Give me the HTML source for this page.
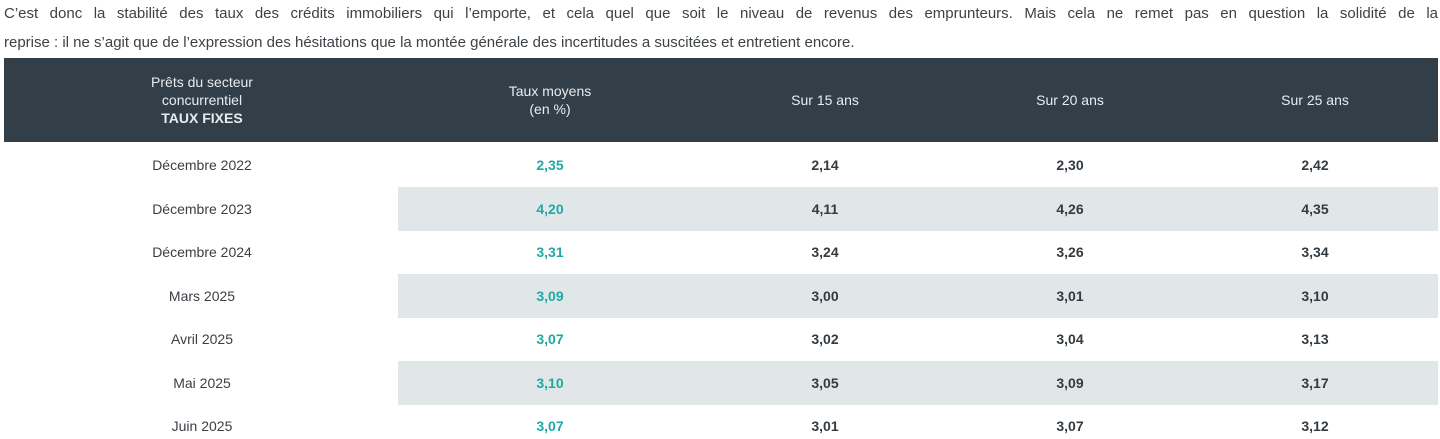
<!DOCTYPE html>
<html><head><meta charset="utf-8"><style>
body{margin:0;width:1440px;height:439px;background:#fff;overflow:hidden;font-family:"Liberation Sans",sans-serif;color:#3a3f44;position:relative}
.p{position:absolute;left:4px;width:1434px;font-size:15px;line-height:20px;color:#3d4246;white-space:nowrap}
#l1{top:4px;text-align:justify;text-align-last:justify;white-space:normal}
#l2{top:33px}
#hdr{position:absolute;left:4px;top:58px;width:1434px;height:84px;background:#333f48}
.c{position:absolute;transform:translate(-50%,-50%);text-align:center;font-size:14px;white-space:nowrap}
.h{color:#e8ecef;line-height:18px}
.shade{position:absolute;left:398px;width:1040px;height:43.5px;background:#e1e6e9}
.b{font-weight:bold;color:#333a40}
.t{font-weight:bold;color:#1fa9a3}
</style></head><body>
<div class="p" id="l1">C’est donc la stabilité des taux des crédits immobiliers qui l’emporte, et cela quel que soit le niveau de revenus des emprunteurs. Mais cela ne remet pas en question la solidité de la</div>
<div class="p" id="l2">reprise : il ne s’agit que de l’expression des hésitations que la montée générale des incertitudes a suscitées et entretient encore.</div>
<div id="hdr"></div>
<div id="tbl"></div>
<script>
const hdrs=["Prêts du secteur<br>concurrentiel<br><b>TAUX FIXES</b>","Taux moyens<br>(en %)","Sur 15 ans","Sur 20 ans","Sur 25 ans"];
const periods=["Décembre 2022","Décembre 2023","Décembre 2024","Mars 2025","Avril 2025","Mai 2025","Juin 2025"];
const tauxMoyens=["2,35","4,20","3,31","3,09","3,07","3,10","3,07"];
const sur15=["2,14","4,11","3,24","3,00","3,02","3,05","3,01"];
const sur20=["2,30","4,26","3,26","3,01","3,04","3,09","3,07"];
const sur25=["2,42","4,35","3,34","3,10","3,13","3,17","3,12"];
const colX=[202,550,825,1070,1315];
const body=document.body;
hdrs.forEach((h,i)=>{const d=document.createElement('div');d.className='c h';d.style.left=colX[i]+'px';d.style.top='100px';d.innerHTML=h;


body.appendChild(d);});
const rowH=43.5,top0=143.5;
periods.forEach((p,r)=>{
 if(r%2===1){const s=document.createElement('div');s.className='shade';s.style.top=(top0+r*rowH)+'px';
 
 
 body.appendChild(s);}
 const vals=[p,tauxMoyens[r],sur15[r],sur20[r],sur25[r]];
 vals.forEach((v,i)=>{const d=document.createElement('div');d.className='c '+(i===0?'':(i===1?'t':'b'));
 d.style.left=colX[i]+'px';d.style.top=(top0+r*rowH+rowH/2)+'px';d.textContent=v;
 
 
 body.appendChild(d);});
});
</script>
</body></html>
